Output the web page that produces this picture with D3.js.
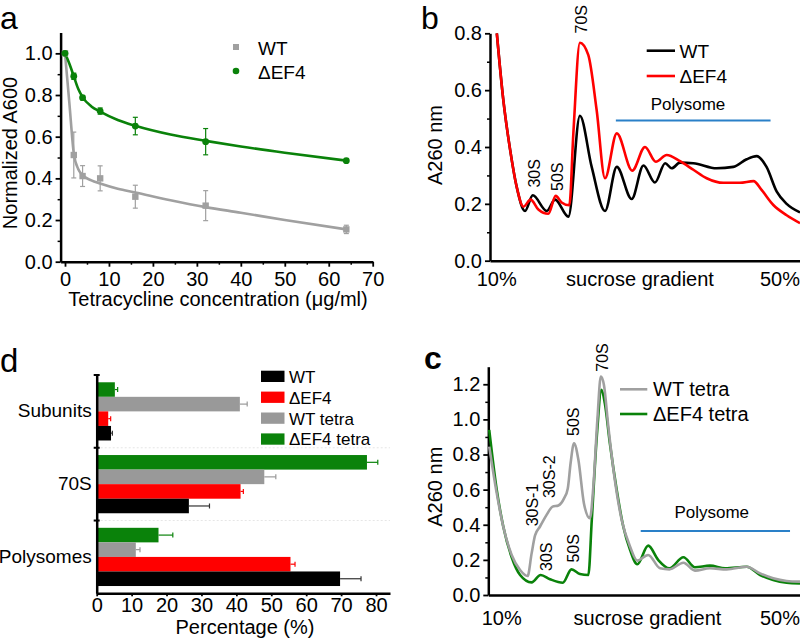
<!DOCTYPE html>
<html>
<head>
<meta charset="utf-8">
<script src="https://cdn.jsdelivr.net/npm/d3@7"></script>
<style>
  html, body { margin: 0; padding: 0; background: #fff; }
  svg { display: block; }
  text { font-family: "Liberation Sans", Arial, sans-serif; fill: #000; }
</style>
</head>
<body>
<svg id="chart" width="800" height="641"></svg>
<script>
// ---------------- DATA ----------------
// Panel a: growth vs tetracycline
const aConc = [0, 2, 4, 8, 16, 32, 64];
const aWT = [1.0, 0.512, 0.411, 0.40, 0.312, 0.269, 0.155];
const aWTErr = [0, 0.11, 0.05, 0.06, 0.055, 0.072, 0.02];
const aEF4 = [1.0, 0.89, 0.787, 0.723, 0.651, 0.576, 0.485];
const aEF4Err = [0, 0.015, 0.01, 0.015, 0.042, 0.063, 0.005];
const aFitX = [0, 1, 2, 3, 4, 6, 8, 12, 16, 24, 32, 40, 50, 64];
const aFitWT = [1.0, 0.76, 0.52, 0.445, 0.415, 0.39, 0.375, 0.35, 0.332, 0.295, 0.262, 0.235, 0.2, 0.155];
const aFitEF4 = [1.0, 0.95, 0.89, 0.83, 0.79, 0.745, 0.72, 0.68, 0.652, 0.61, 0.58, 0.553, 0.523, 0.485];
const aXTicks = [0, 10, 20, 30, 40, 50, 60, 70];
const aYTicks = [0, 0.2, 0.4, 0.6, 0.8, 1.0];

// Panel b: polysome profiles (position along gradient, 0-100)
const bPosWT = [2.2, 4.3, 6.5, 8.6, 11.3, 13.8, 18.3, 21, 25.3, 29, 32.8, 37.1, 40.9, 45.7, 49.5, 53.2, 56.5, 58.6, 61.3, 65.6, 73.1, 78.5, 82.8, 86, 89.2, 92.5, 95.7, 100];
const bWT = [0.8, 0.565, 0.39, 0.26, 0.175, 0.23, 0.175, 0.215, 0.155, 0.51, 0.33, 0.175, 0.33, 0.217, 0.335, 0.275, 0.343, 0.325, 0.345, 0.343, 0.325, 0.33, 0.357, 0.368, 0.33, 0.243, 0.2, 0.17];
const bPosEF4 = [2.2, 4.3, 6.5, 8.6, 10.8, 13.1, 15.6, 18.8, 21.2, 23.1, 25.6, 26.9, 29, 31.7, 34.4, 37.1, 40.9, 45.9, 50, 53.5, 57, 61.3, 65.6, 69.9, 75.3, 80.6, 85, 87.6, 91.4, 95.7, 100];
const bEF4 = [0.8, 0.565, 0.39, 0.26, 0.19, 0.215, 0.18, 0.165, 0.228, 0.205, 0.195, 0.45, 0.767, 0.724, 0.53, 0.29, 0.448, 0.317, 0.40, 0.348, 0.372, 0.35, 0.32, 0.29, 0.274, 0.274, 0.28, 0.249, 0.196, 0.16, 0.132];
const bYTicks = [0, 0.2, 0.4, 0.6, 0.8];

// Panel c: tetracycline-treated profiles
const cPosWT = [0.3, 2.7, 4.8, 7.5, 10.2, 12.6, 13.9, 15, 16.6, 18.7, 20.6, 22.5, 24.3, 25.5, 26.4, 27.5, 28.9, 30.7, 32.6, 33.7, 35, 36.1, 37.1, 38.5, 40.6, 42.8, 45.5, 47.8, 51.3, 55.1, 58.1, 62.6, 66.3, 71.1, 76.5, 82.9, 87.2, 91.4, 95.7, 100];
const cWT = [0.845, 0.58, 0.39, 0.228, 0.142, 0.108, 0.237, 0.34, 0.39, 0.456, 0.503, 0.51, 0.55, 0.607, 0.75, 0.864, 0.77, 0.52, 0.437, 0.617, 1.0, 1.244, 1.196, 0.96, 0.655, 0.427, 0.275, 0.196, 0.228, 0.152, 0.146, 0.184, 0.139, 0.152, 0.146, 0.161, 0.123, 0.095, 0.08, 0.076];
const cPosEF4 = [0.3, 2.7, 4.8, 7.5, 10.2, 13.9, 16.8, 19.8, 23.9, 26.7, 29.4, 32.1, 33.2, 34.8, 36.3, 37.4, 39, 41.2, 43.3, 45.5, 47.8, 51.3, 54.5, 58.1, 62.6, 66.3, 71.1, 76, 82.9, 87.2, 91.4, 95.7, 100];
const cEF4 = [0.94, 0.6, 0.39, 0.215, 0.114, 0.072, 0.114, 0.09, 0.07, 0.146, 0.12, 0.114, 0.427, 0.9, 1.168, 1.09, 0.864, 0.598, 0.39, 0.256, 0.175, 0.281, 0.2, 0.152, 0.215, 0.158, 0.167, 0.152, 0.161, 0.114, 0.085, 0.07, 0.066];
const cYTicks = [0, 0.2, 0.4, 0.6, 0.8, 1.0, 1.2];

// Panel d: percentages
const dCategories = ["Subunits", "70S", "Polysomes"];
const dSeries = ["WT", "ΔEF4", "WT tetra", "ΔEF4 tetra"];
const dWT = [4.1, 26.4, 69.7];
const dWTErr = [0.4, 5.9, 6.0];
const dEF4 = [3.3, 41.2, 55.5];
const dEF4Err = [0.7, 0.8, 1.3];
const dWTtetra = [41.0, 48.0, 11.2];
const dWTtetraErr = [2.1, 3.3, 1.2];
const dEF4tetra = [5.2, 77.4, 17.7];
const dEF4tetraErr = [0.8, 3.1, 4.1];
const dXTicks = [0, 10, 20, 30, 40, 50, 60, 70, 80];

// ---------------- STYLE ----------------
const GREEN = "#0a820a", GRAY = "#999999", RED = "#ff0000", BLACK = "#000000", BLUE = "#2a80c8";
const svg = d3.select("#chart");
const FONT = 20;

function styleAxis(g, width) {
  g.selectAll(".domain").attr("stroke", "#000").attr("stroke-width", width || 2.5);
  g.selectAll(".tick line").attr("stroke", "#000").attr("stroke-width", 1.8);
  g.selectAll(".tick text").attr("font-size", FONT).attr("font-family", '"Liberation Sans", Arial, sans-serif').attr("fill", "#000");
}

// ================ PANEL A ================
{
  const x = d3.scaleLinear().domain([-1, 70]).range([60.6, 372.7]);
  const y = d3.scaleLinear().domain([0, 1.1]).range([261.7, 32.5]);
  const g = svg.append("g");

  const gy = g.append("g").attr("transform", `translate(${x(-1)},0)`)
    .call(d3.axisLeft(y).tickValues(aYTicks).tickFormat(d3.format(".1f")).tickSize(5).tickPadding(3).tickSizeOuter(0));
  styleAxis(gy);
  g.append("g").attr("transform", `translate(${x(-1)},0)`)
    .call(d3.axisLeft(y).tickValues([0.1, 0.3, 0.5, 0.7, 0.9]).tickFormat("").tickSize(3).tickSizeOuter(0))
    .call(s => { s.select(".domain").remove(); s.selectAll("line").attr("stroke-width", 1.5); });
  const gx = g.append("g").attr("transform", `translate(0,${y(0)})`)
    .call(d3.axisBottom(x).tickValues(aXTicks).tickSize(5).tickPadding(5).tickSizeOuter(0));
  styleAxis(gx);
  g.append("g").attr("transform", `translate(0,${y(0)})`)
    .call(d3.axisBottom(x).tickValues([5, 15, 25, 35, 45, 55, 65]).tickFormat("").tickSize(3).tickSizeOuter(0))
    .call(s => { s.select(".domain").remove(); s.selectAll("line").attr("stroke-width", 1.5); });

  const line = d3.line().x(d => x(d[0])).y(d => y(d[1])).curve(d3.curveMonotoneX);
  g.append("path").datum(aFitX.map((v, i) => [v, aFitWT[i]])).attr("d", line)
    .attr("fill", "none").attr("stroke", "#a0a0a0").attr("stroke-width", 2.6);
  g.append("path").datum(aFitX.map((v, i) => [v, aFitEF4[i]])).attr("d", line)
    .attr("fill", "none").attr("stroke", GREEN).attr("stroke-width", 2.6);

  function errs(vals, errsArr, color) {
    aConc.forEach((c, i) => {
      const e = errsArr[i];
      if (!e) return;
      const cx = x(c);
      g.append("line").attr("x1", cx).attr("x2", cx).attr("y1", y(vals[i] - e)).attr("y2", y(vals[i] + e)).attr("stroke", color).attr("stroke-width", 1.2);
      [vals[i] - e, vals[i] + e].forEach(v => g.append("line").attr("x1", cx - 2.5).attr("x2", cx + 2.5).attr("y1", y(v)).attr("y2", y(v)).attr("stroke", color).attr("stroke-width", 1.2));
    });
  }
  errs(aWT, aWTErr, "#a0a0a0");
  errs(aEF4, aEF4Err, GREEN);
  g.selectAll(".sq").data(aConc).enter().append("rect")
    .attr("x", (d) => x(d) - 3.2).attr("y", (d, i) => y(aWT[i]) - 3.2).attr("width", 6.4).attr("height", 6.4).attr("fill", "#a0a0a0");
  g.selectAll(".ci").data(aConc).enter().append("circle")
    .attr("cx", d => x(d)).attr("cy", (d, i) => y(aEF4[i])).attr("r", 3.4).attr("fill", GREEN);

  // legend
  g.append("rect").attr("x", 233).attr("y", 44).attr("width", 6).attr("height", 6).attr("fill", "#a0a0a0");
  g.append("text").attr("x", 258).attr("y", 54.5).attr("font-size", 19).text("WT");
  g.append("circle").attr("cx", 236).attr("cy", 71).attr("r", 3.3).attr("fill", GREEN);
  g.append("text").attr("x", 258).attr("y", 78.5).attr("font-size", 19).text("ΔEF4");

  g.append("text").attr("transform", "translate(17,153) rotate(-90)").attr("text-anchor", "middle").attr("font-size", FONT).text("Normalized A600");
  g.append("text").attr("x", 218).attr("y", 306).attr("text-anchor", "middle").attr("font-size", FONT).text("Tetracycline concentration (μg/ml)");
  g.append("text").attr("x", 0).attr("y", 29).attr("font-size", 32).text("a");
}

// ================ PANEL B ================
{
  const x = d3.scaleLinear().domain([0, 100]).range([490, 800]);
  const y = d3.scaleLinear().domain([0, 0.8]).range([260.7, 33.3]);
  const g = svg.append("g");
  const gy = g.append("g").attr("transform", `translate(${x(0)},0)`)
    .call(d3.axisLeft(y).tickValues(bYTicks).tickFormat(d3.format(".1f")).tickSize(5).tickPadding(3).tickSizeOuter(0));
  styleAxis(gy);
  g.append("g").attr("transform", `translate(${x(0)},0)`)
    .call(d3.axisLeft(y).tickValues([0.1, 0.3, 0.5, 0.7]).tickFormat("").tickSize(3).tickSizeOuter(0))
    .call(s => { s.select(".domain").remove(); s.selectAll("line").attr("stroke-width", 1.5); });
  const gx = g.append("g").attr("transform", `translate(0,${y(0)})`)
    .call(d3.axisBottom(x).tickValues([]).tickSizeOuter(0));
  styleAxis(gx);

  const line = d3.line().x(d => x(d[0])).y(d => y(d[1])).curve(d3.curveMonotoneX);
  g.append("path").datum(bPosWT.map((v, i) => [v, bWT[i]])).attr("d", line)
    .attr("fill", "none").attr("stroke", BLACK).attr("stroke-width", 2.6);
  g.append("path").datum(bPosEF4.map((v, i) => [v, bEF4[i]])).attr("d", line)
    .attr("fill", "none").attr("stroke", RED).attr("stroke-width", 2.6);

  g.append("line").attr("x1", x(40.6)).attr("x2", x(90.5)).attr("y1", y(0.493)).attr("y2", y(0.493)).attr("stroke", BLUE).attr("stroke-width", 2);
  g.append("text").attr("x", 688).attr("y", 110).attr("text-anchor", "middle").attr("font-size", 17).text("Polysome");

  const ann = [["30S", 534.2, 173.3], ["50S", 557.5, 176.7], ["70S", 580.8, 19.2]];
  ann.forEach(a => g.append("text").attr("transform", `translate(${a[1] + 5.8},${a[2]}) rotate(-90)`).attr("text-anchor", "middle").attr("font-size", 16).text(a[0]));

  g.append("line").attr("x1", 646.7).attr("x2", 675).attr("y1", 50.7).attr("y2", 50.7).attr("stroke", BLACK).attr("stroke-width", 2.6);
  g.append("text").attr("x", 679.5).attr("y", 57.5).attr("font-size", 19).text("WT");
  g.append("line").attr("x1", 646.7).attr("x2", 675).attr("y1", 76).attr("y2", 76).attr("stroke", RED).attr("stroke-width", 2.6);
  g.append("text").attr("x", 679.5).attr("y", 82.8).attr("font-size", 19).text("ΔEF4");

  g.append("text").attr("transform", "translate(441.5,145) rotate(-90)").attr("text-anchor", "middle").attr("font-size", FONT).text("A260 nm");
  g.append("text").attr("x", 496.7).attr("y", 286).attr("text-anchor", "middle").attr("font-size", FONT).text("10%");
  g.append("text").attr("x", 640).attr("y", 286).attr("text-anchor", "middle").attr("font-size", FONT).text("sucrose gradient");
  g.append("text").attr("x", 780).attr("y", 286).attr("text-anchor", "middle").attr("font-size", FONT).text("50%");
  g.append("text").attr("x", 421).attr("y", 29).attr("font-size", 32).text("b");
}

// ================ PANEL C ================
{
  const x = d3.scaleLinear().domain([0, 100]).range([488.3, 800]);
  const y = d3.scaleLinear().domain([0, 1.3]).range([595, 366.7]);
  const g = svg.append("g");
  const gy = g.append("g").attr("transform", `translate(${x(0)},0)`)
    .call(d3.axisLeft(y).tickValues(cYTicks).tickFormat(d3.format(".1f")).tickSize(5).tickPadding(3).tickSizeOuter(0));
  styleAxis(gy);
  g.append("g").attr("transform", `translate(${x(0)},0)`)
    .call(d3.axisLeft(y).tickValues([0.1, 0.3, 0.5, 0.7, 0.9, 1.1]).tickFormat("").tickSize(3).tickSizeOuter(0))
    .call(s => { s.select(".domain").remove(); s.selectAll("line").attr("stroke-width", 1.5); });
  const gx = g.append("g").attr("transform", `translate(0,${y(0)})`)
    .call(d3.axisBottom(x).tickValues([]).tickSizeOuter(0));
  styleAxis(gx);

  const line = d3.line().x(d => x(d[0])).y(d => y(d[1])).curve(d3.curveMonotoneX);
  g.append("path").datum(cPosEF4.map((v, i) => [v, cEF4[i]])).attr("d", line)
    .attr("fill", "none").attr("stroke", GREEN).attr("stroke-width", 2.6);
  g.append("path").datum(cPosWT.map((v, i) => [v, cWT[i]])).attr("d", line)
    .attr("fill", "none").attr("stroke", "#a0a0a0").attr("stroke-width", 2.6);

  g.append("line").attr("x1", x(48.9)).attr("x2", x(96.8)).attr("y1", y(0.365)).attr("y2", y(0.365)).attr("stroke", BLUE).attr("stroke-width", 2);
  g.append("text").attr("x", 711.7).attr("y", 517.5).attr("text-anchor", "middle").attr("font-size", 17).text("Polysome");

  const ann = [["70S", 602, 357.5], ["50S", 572.8, 421.7], ["30S-2", 548.8, 476.7], ["30S-1", 531.7, 505], ["30S", 546.3, 556.7], ["50S", 572.7, 548.3]];
  ann.forEach(a => g.append("text").attr("transform", `translate(${a[1] + 5.8},${a[2]}) rotate(-90)`).attr("text-anchor", "middle").attr("font-size", 16).text(a[0]));

  g.append("line").attr("x1", 620).attr("x2", 647.3).attr("y1", 389.3).attr("y2", 389.3).attr("stroke", "#a0a0a0").attr("stroke-width", 2.6);
  g.append("text").attr("x", 653).attr("y", 396.3).attr("font-size", FONT).text("WT tetra");
  g.append("line").attr("x1", 620).attr("x2", 647.3).attr("y1", 414).attr("y2", 414).attr("stroke", GREEN).attr("stroke-width", 2.6);
  g.append("text").attr("x", 653).attr("y", 421).attr("font-size", FONT).text("ΔEF4 tetra");

  g.append("text").attr("transform", "translate(441.5,486.7) rotate(-90)").attr("text-anchor", "middle").attr("font-size", FONT).text("A260 nm");
  g.append("text").attr("x", 501.7).attr("y", 625).attr("text-anchor", "middle").attr("font-size", FONT).text("10%");
  g.append("text").attr("x", 647.5).attr("y", 625).attr("text-anchor", "middle").attr("font-size", FONT).text("sucrose gradient");
  g.append("text").attr("x", 780).attr("y", 625).attr("text-anchor", "middle").attr("font-size", FONT).text("50%");
  g.append("text").attr("x", 424).attr("y", 368.5).attr("font-size", 32).attr("font-weight", "bold").text("c");
}

// ================ PANEL D ================
{
  const x = d3.scaleLinear().domain([0, 84]).range([96.7, 390]);
  const y = d3.scaleBand().domain(dCategories).range([375, 593.3]).paddingInner(0).paddingOuter(0);
  const order = ["ΔEF4 tetra", "WT tetra", "ΔEF4", "WT"];
  const ys = d3.scaleBand().domain(order).range([0, y.bandwidth()]).paddingInner(0).paddingOuter(0.5);
  const colors = { "WT": BLACK, "ΔEF4": RED, "WT tetra": GRAY, "ΔEF4 tetra": GREEN };
  const errColors = { "WT": "#333", "ΔEF4": RED, "WT tetra": GRAY, "ΔEF4 tetra": GREEN };
  const vals = { "WT": dWT, "ΔEF4": dEF4, "WT tetra": dWTtetra, "ΔEF4 tetra": dEF4tetra };
  const errs = { "WT": dWTErr, "ΔEF4": dEF4Err, "WT tetra": dWTtetraErr, "ΔEF4 tetra": dEF4tetraErr };
  const g = svg.append("g");

  [y("70S"), y("Polysomes")].forEach(yy => g.append("line").attr("x1", x(0)).attr("x2", 390).attr("y1", yy).attr("y2", yy)
    .attr("stroke", "#e6e6e6").attr("stroke-width", 1).attr("stroke-dasharray", "2,2"));

  dCategories.forEach((cat, ci) => {
    order.forEach(s => {
      const v = vals[s][ci], e = errs[s][ci];
      const y0 = y(cat) + ys(s);
      g.append("rect").attr("x", x(0)).attr("y", y0).attr("width", x(v) - x(0)).attr("height", ys.bandwidth()).attr("fill", colors[s]);
      const cy = y0 + ys.bandwidth() / 2;
      g.append("line").attr("x1", x(v)).attr("x2", x(v + e)).attr("y1", cy).attr("y2", cy).attr("stroke", errColors[s]).attr("stroke-width", 1.2);
      g.append("line").attr("x1", x(v + e)).attr("x2", x(v + e)).attr("y1", cy - 2.5).attr("y2", cy + 2.5).attr("stroke", errColors[s]).attr("stroke-width", 1.2);
    });
  });

  const gx = g.append("g").attr("transform", `translate(0,593.3)`)
    .call(d3.axisBottom(x).tickValues(dXTicks).tickSize(3).tickPadding(2).tickSizeOuter(0));
  styleAxis(gx);
  const gy = g.append("g").attr("transform", `translate(${x(0)},0)`)
    .call(d3.axisLeft(y).tickSize(0).tickPadding(5).tickSizeOuter(0));
  styleAxis(gy);
  gy.selectAll(".tick text").attr("font-size", 19);
  [375, y("70S"), y("Polysomes")].forEach(yy => g.append("line").attr("x1", x(0) - 3).attr("x2", x(0) + 3).attr("y1", yy).attr("y2", yy).attr("stroke", "#000").attr("stroke-width", 2));

  dSeries.forEach((s, i) => {
    const yy = 370.7 + i * 20.9;
    g.append("rect").attr("x", 261).attr("y", yy).attr("width", 23.5).attr("height", 11.3).attr("fill", colors[s]);
    g.append("text").attr("x", 289).attr("y", yy + 12).attr("font-size", 17).text(s);
  });

  g.append("text").attr("x", 245).attr("y", 634).attr("text-anchor", "middle").attr("font-size", FONT).text("Percentage (%)");
  g.append("text").attr("x", 0).attr("y", 372).attr("font-size", 33).text("d");
}
</script>
</body>
</html>
